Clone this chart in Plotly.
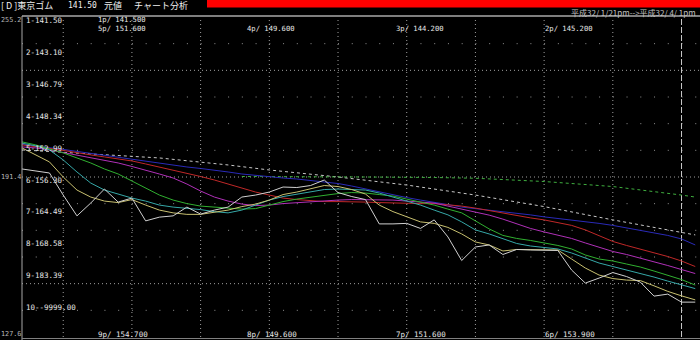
import plotly.graph_objects as go

# ---------------- data ----------------
idx = list(range(50))

price = [194.6, 193.8, 193.0, 184.2, 175.9, 181.0, 186.6, 181.4, 183.0, 173.9,
         175.4, 175.9, 179.4, 176.6, 178.2, 179.4, 183.4, 184.2, 185.4, 187.4,
         187.2, 188.0, 190.2, 185.2, 183.6, 182.4, 172.7, 172.7, 172.9, 170.9,
         174.3, 167.5, 158.1, 163.5, 164.3, 160.5, 162.5, 162.3, 162.3, 162.1,
         154.3, 149.1, 151.1, 153.3, 151.7, 149.5, 143.9, 144.7, 141.5, 141.5]

ma_yellow = [203.0, 200.2, 197.4, 191.4, 186.2, 183.4, 181.8, 181.2, 182.4, 180.2,
             178.2, 177.1, 176.5, 176.5, 177.3, 178.2, 179.6, 180.6, 182.2, 184.4,
             185.4, 186.6, 188.0, 187.6, 186.4, 184.6, 180.2, 177.6, 175.6, 173.5,
             172.9, 171.3, 168.7, 165.5, 164.3, 161.9, 162.5, 162.5, 162.5, 162.3,
             158.7, 155.1, 152.3, 150.9, 150.3, 150.1, 148.0, 145.8, 144.0, 142.4]

ma_cyan = [204.9, 203.8, 202.2, 198.2, 193.4, 189.0, 186.2, 184.6, 183.0, 181.8,
           180.2, 179.4, 179.0, 178.4, 177.6, 177.1, 178.2, 180.2, 182.2, 183.6,
           184.6, 185.4, 186.4, 186.6, 186.4, 186.2, 185.0, 183.4, 181.8, 180.2,
           178.2, 176.3, 173.5, 170.3, 168.7, 166.7, 164.9, 163.9, 163.3, 162.7,
           161.1, 159.1, 157.1, 155.7, 154.3, 153.1, 151.5, 149.9, 148.3, 146.9]

ma_green = [205.4, 204.2, 202.6, 201.0, 199.0, 197.0, 194.6, 192.6, 189.8, 187.0,
            184.2, 182.2, 180.8, 179.8, 179.4, 179.0, 178.6, 178.8, 180.2, 181.6,
            182.6, 183.4, 184.2, 184.8, 185.2, 185.0, 184.4, 183.8, 182.6, 181.4,
            180.2, 178.6, 177.1, 173.9, 170.7, 168.1, 166.9, 166.1, 165.1, 164.1,
            162.7, 160.3, 158.7, 157.9, 156.7, 155.5, 153.9, 152.3, 150.5, 148.3]

ma_magenta = [203.4, 203.0, 202.2, 201.2, 200.2, 199.2, 198.2, 197.0, 195.6, 194.2,
              192.6, 191.0, 188.6, 185.8, 183.4, 181.8, 180.6, 180.0, 180.2, 180.8,
              181.2, 181.6, 182.0, 182.2, 182.4, 182.4, 182.4, 182.2, 181.8, 181.4,
              181.0, 179.8, 178.6, 177.4, 176.2, 174.6, 172.7, 170.9, 169.5, 168.3,
              166.9, 165.1, 163.5, 161.7, 160.5, 159.1, 157.5, 156.1, 154.5, 152.9]

ma_red = [204.2, 203.6, 202.8, 202.0, 201.0, 200.2, 199.4, 198.6, 197.8, 196.6,
          195.4, 194.2, 193.0, 191.6, 190.2, 188.6, 187.0, 185.4, 184.2, 183.0,
          182.4, 182.0, 181.6, 181.6, 181.6, 181.4, 181.2, 181.0, 180.8, 180.8,
          180.8, 180.4, 179.8, 179.0, 178.0, 176.8, 175.8, 175.1, 174.3, 173.3,
          172.1, 170.3, 167.9, 165.7, 164.1, 162.7, 161.3, 159.7, 157.9, 155.7]

ma_blue = [204.4, 203.8, 203.2, 202.4, 201.6, 200.8, 200.0, 199.4, 198.6, 197.8,
           197.0, 196.2, 195.4, 194.8, 194.2, 193.4, 192.6, 192.0, 191.4, 191.0,
           190.6, 190.0, 189.4, 188.8, 187.8, 186.6, 185.4, 184.2, 183.2, 182.2,
           181.4, 180.4, 179.4, 178.8, 178.2, 177.6, 177.1, 176.3, 175.5, 174.9,
           174.3, 173.7, 172.9, 172.1, 171.1, 170.3, 169.3, 168.1, 166.7, 164.3]

dot_white_idx = [0, 5, 10, 15, 18, 23, 28, 33, 38, 43, 48, 49]
dot_white = [202.2, 200.6, 199.0, 196.2, 194.2, 191.4, 188.2, 184.2, 179.6, 174.3, 169.5, 168.3]

dot_green_idx = [16, 20, 25, 30, 33, 38, 43, 48, 49]
dot_green = [191.6, 191.6, 191.4, 191.2, 190.9, 189.6, 187.6, 184.2, 183.4]

y_top, y_mid, y_bot = 255.2, 191.4, 127.6
axis_labels = ["255.2", "191.4", "127.6"]

legend_labels = ["1-141.50", "2-143.10", "3-146.79", "4-148.34", "5-152.99",
                 "6-156.30", "7-164.49", "8-168.58", "9-183.39", "10--9999.00"]
top_notes = ["5p/ 151.600", "4p/ 149.600", "3p/ 144.200", "2p/ 145.200"]
first_note = "1p/ 141.500"
bottom_notes = ["9p/ 154.700", "8p/ 149.600", "7p/ 151.600", "6p/ 153.900"]

header_items = ["[ D ]東京ゴム", "141.50", "元値", "チャート分析"]
period_text = "平成32/ 1/21pm-->平成32/ 4/ 1pm"

grid_idx = [3, 8, 13, 18, 23, 28, 33, 38, 43]
today_idx = 48

# ---------------- layout helpers ----------------
W, H = 700, 340
PL, PT, PR, PB = 22, 17, 0, 3
PW, PH = W - PL - PR, H - PT - PB
STEP = 13.74


def px(x):
    return (x - PL) / PW


def py(y):
    return 1 - (y - PT) / PH


MONO = "DejaVu Sans Mono"
CJK = "Noto Sans CJK JP"

fig = go.Figure()

line_specs = [
    (dot_white_idx, dot_white, "#c8c8c8", "dot"),
    (dot_green_idx, dot_green, "#3fae3f", "dot"),
    (idx, ma_blue, "#2a2ab8", "solid"),
    (idx, ma_red, "#c02828", "solid"),
    (idx, ma_magenta, "#b030b8", "solid"),
    (idx, ma_green, "#30b030", "solid"),
    (idx, ma_cyan, "#36a8a8", "solid"),
    (idx, ma_yellow, "#c8c070", "solid"),
    (idx, price, "#d0d0d0", "solid"),
]
for xs, ys, col, dash in line_specs:
    fig.add_trace(go.Scatter(x=xs, y=ys, mode="lines",
                             line=dict(color=col, width=1, dash=dash),
                             hoverinfo="skip", showlegend=False))

shapes = []
# horizontal grid
div = (y_top - y_bot) / 12
for k in range(1, 12):
    v = y_bot + k * div
    dense = k in (2, 6, 10)
    shapes.append(dict(type="line", xref="paper", yref="y", x0=0, x1=1, y0=v, y1=v,
                       line=dict(color="#a0a0a0" if dense else "#909090", width=1,
                                 dash="1px,3px" if dense else "1px,12.74px"),
                       layer="below"))
# vertical grid
for g in grid_idx:
    shapes.append(dict(type="line", xref="x", yref="paper", x0=g, x1=g, y0=0, y1=py(19),
                       line=dict(color="#a0a0a0", width=1, dash="1px,3px"), layer="below"))
shapes.append(dict(type="line", xref="x", yref="paper", x0=today_idx, x1=today_idx,
                   y0=0, y1=py(17), line=dict(color="#c8c8c8", width=1, dash="6px,2px"),
                   layer="below"))
# frame lines
shapes.append(dict(type="line", xref="paper", yref="paper", x0=0, x1=0, y0=py(340), y1=py(16),
                   line=dict(color="#a8a8a8", width=1)))
shapes.append(dict(type="line", xref="paper", yref="paper", x0=0, x1=1, y0=py(16), y1=py(16),
                   line=dict(color="#a8a8a8", width=1.5)))
shapes.append(dict(type="line", xref="paper", yref="paper", x0=0, x1=1, y0=py(338.5), y1=py(338.5),
                   line=dict(color="#808080", width=1)))
# red header bar
shapes.append(dict(type="rect", xref="paper", yref="paper", x0=px(207), x1=1.0,
                   y0=py(7.5), y1=py(0), fillcolor="#ff0000", line=dict(width=0)))

ann = []


def txt(text, x, y, xanchor="left", yanchor="middle", size=7, color="#e8e8e8", family=MONO):
    ann.append(dict(text=text, xref="paper", yref="paper", x=px(x), y=py(y),
                    xanchor=xanchor, yanchor=yanchor, showarrow=False, borderpad=0,
                    font=dict(family=family, size=size, color=color)))


# axis value labels in the left margin
for lab, ypx in zip(axis_labels, [20, 177, 334]):
    txt(lab, 0, ypx, xanchor="left", size=6.8, color="#b8b8b8")

# numbered list inside the plot
for k, lab in enumerate(legend_labels):
    txt(lab, 25, 21 + 31.8 * k, size=7.5)

# pivot notes
txt(first_note, 97, 19.5, size=7.2)
for k, lab in enumerate(top_notes):
    txt(lab, 97 + 149 * k, 28.5, size=7.2)
for k, lab in enumerate(bottom_notes):
    txt(lab, 97 + 149 * k, 334.5, size=7.5)

# header
txt(header_items[0], 0, 6, size=9, family=CJK, color="#f0f0f0")
txt(header_items[1], 67, 6, size=8, color="#f0f0f0")
txt(header_items[2], 103, 6, size=9, family=CJK, color="#f0f0f0")
txt(header_items[3], 133, 6, size=9, family=CJK, color="#f0f0f0")
txt(period_text, 697, 12, xanchor="right", size=8, family=CJK, color="#c0c0c0")

fig.update_layout(
    width=W, height=H, autosize=False,
    margin=dict(l=PL, r=PR, t=PT, b=PB, pad=0),
    paper_bgcolor="#000000", plot_bgcolor="#000000",
    xaxis=dict(range=[0, PW / STEP], visible=False, fixedrange=True),
    yaxis=dict(range=[y_bot, y_top], visible=False, fixedrange=True),
    shapes=shapes, annotations=ann, hovermode=False, showlegend=False,
)

fig.write_html("out.html", config={"displayModeBar": False})
